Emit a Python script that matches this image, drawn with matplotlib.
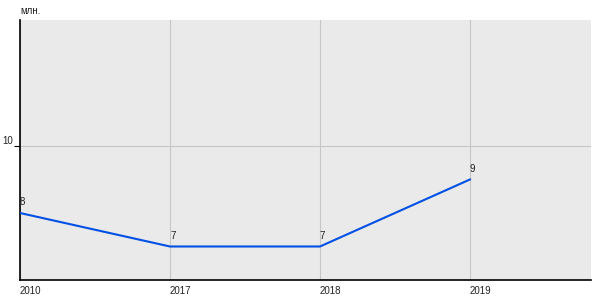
import matplotlib
matplotlib.use("Agg")
import matplotlib.pyplot as plt

plt.rcParams['font.family'] = ['Liberation Sans', 'DejaVu Sans']

years = ['2010', '2017', '2018', '2019']
values = [8, 7, 7, 9]
y_ticks = [10]

fig = plt.figure(figsize=(6, 3), dpi=100)
ax = fig.add_axes([20 / 600, 20 / 300, 571 / 600, 260 / 300])
ax.set_facecolor('#eaeaea')

xs = list(range(len(years)))
ax.plot(xs, values, color='#0050e6', lw=1.5, zorder=3)
for x, v in zip(xs, values):
    ax.annotate(str(v), (x, v), xytext=(0, 4), textcoords='offset points',
                ha='left', va='bottom', fontsize=7, color='#222222')

ax.set_xlim(0, 3.807)
ax.set_ylim(6.0, 13.76)
ax.set_xticks(xs)
ax.set_xticklabels(years, ha='left', fontsize=7, color='#222222')
ax.set_yticks(y_ticks)
ax.set_yticklabels([str(t) for t in y_ticks], fontsize=7, color='#222222', va='bottom')
ax.tick_params(axis='x', length=0, pad=4)
ax.tick_params(axis='y', length=4, width=0.8, pad=1)

ax.grid(True, color='#c6c6c6', lw=0.8)
ax.set_axisbelow(True)
for s in ['top', 'right']:
    ax.spines[s].set_visible(False)
for s in ['left', 'bottom']:
    ax.spines[s].set_linewidth(1.2)

fig.text(20 / 600, 1 - 11 / 300, 'млн.', fontsize=7, color='#222222', va='center', ha='left')

fig.savefig('out.png', dpi=100)
